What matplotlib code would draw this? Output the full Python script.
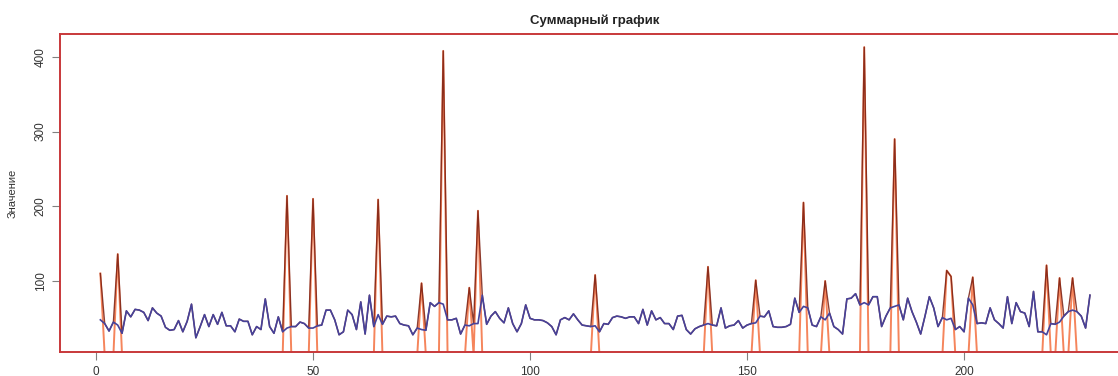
import matplotlib
matplotlib.use("Agg")
import matplotlib.pyplot as plt
import numpy as np

plt.rcParams['font.family'] = ['Liberation Sans', 'DejaVu Sans']

# базовый ряд (синяя линия), точки 1..229
base = [48, 43, 33, 45, 41, 30, 60, 52, 62, 61, 58, 47, 64, 57, 53, 38, 34, 35, 47, 32,
        46, 69, 24, 39, 55, 39, 55, 42, 58, 40, 40, 32, 49, 46, 46, 28, 39, 35, 76, 39,
        30, 52, 32, 37, 39, 39, 45, 43, 37, 37, 40, 41, 61, 61, 48, 28, 32, 61, 55, 35,
        72, 29, 81, 39, 55, 42, 53, 52, 53, 43, 41, 40, 28, 37, 35, 34, 71, 66, 71, 69,
        48, 48, 50, 29, 41, 40, 43, 43, 81, 42, 53, 59, 50, 44, 64, 43, 32, 43, 68, 50,
        48, 48, 47, 44, 39, 28, 48, 51, 48, 56, 48, 41, 40, 39, 40, 32, 43, 42, 51, 53,
        52, 50, 52, 52, 43, 62, 41, 60, 48, 51, 43, 43, 35, 53, 54, 35, 29, 36, 39, 41,
        43, 41, 40, 64, 37, 40, 41, 47, 37, 41, 43, 44, 53, 52, 60, 39, 38, 38, 39, 42,
        77, 58, 66, 64, 41, 39, 52, 48, 57, 39, 35, 29, 76, 77, 83, 68, 71, 68, 79, 79,
        39, 53, 64, 66, 68, 48, 77, 59, 45, 29, 53, 79, 64, 39, 51, 48, 50, 35, 39, 32,
        77, 68, 43, 44, 43, 64, 48, 43, 37, 79, 43, 71, 59, 57, 39, 86, 32, 32, 28, 43,
        42, 45, 53, 59, 61, 59, 53, 37, 81]

# выбросы (оранжевые пики)
spike_x = [1, 5, 44, 50, 65, 75, 80, 86, 88, 115, 141, 152, 163, 168, 177, 184,
           196, 197, 202, 219, 222, 225]
spike_y = [110, 136, 214, 210, 209, 97, 408, 91, 194, 108, 119, 101, 205, 100, 413, 290,
           114, 106, 105, 121, 104, 104]

x = np.arange(1, len(base) + 1)
base = np.array(base, dtype=float)
spikes = np.zeros(len(base))
spikes[np.array(spike_x) - 1] = spike_y
total = np.where(spikes > 0, spikes, base)

fig = plt.figure(figsize=(11.18, 3.76), dpi=100)
ax = fig.add_axes([60 / 1118, 1 - 352 / 376, (1129 - 60) / 1118, (352 - 34) / 376])

ax.plot(x, spikes, color='#F4784A', lw=1.4, alpha=0.9)
ax.plot(x, total, color='#7A1E10', lw=1.0, alpha=0.85)
ax.plot(x, base, color='#46429A', lw=1.2)

ax.set_xlim(-8.3, 238)
ax.set_ylim(4.95, 430.6)

for s in ax.spines.values():
    s.set_color('#C8383A')
    s.set_linewidth(1.4)

ax.set_xticks([0, 50, 100, 150, 200])
ax.set_yticks([100, 200, 300, 400])
ax.tick_params(axis='both', colors='#808080', labelcolor='#333333', labelsize=8.5,
               length=6, width=0.8)
ax.tick_params(axis='x', pad=4)
for lab in ax.get_yticklabels():
    lab.set_rotation(90)
    lab.set_va('center')

ax.set_ylabel('Значение', fontsize=8, color='#333333', labelpad=12)
ax.set_title('Суммарный график', fontsize=9.5, fontweight='bold', color='#222222', pad=7)

fig.savefig('out.png', dpi=100)
